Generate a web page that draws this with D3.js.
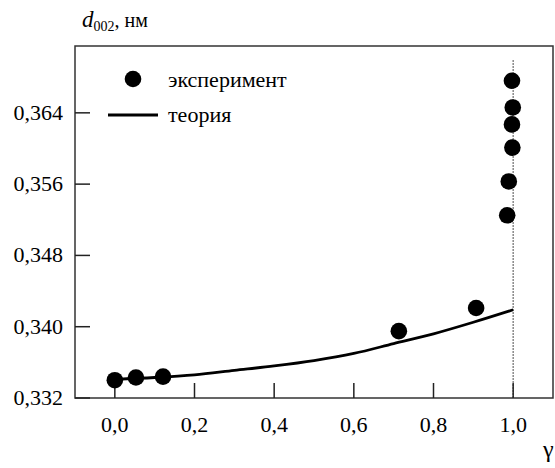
<!DOCTYPE html>
<html><head><meta charset="utf-8">
<script src="https://cdn.jsdelivr.net/npm/d3@7"></script>
<style>
@font-face { font-family: "SerifLocal"; src: local("Liberation Serif"), local("LiberationSerif"), local("Times New Roman"); font-style: normal; }
@font-face { font-family: "SerifLocal"; src: local("Liberation Serif Italic"), local("LiberationSerif-Italic"); font-style: italic; }
svg text, svg tspan { font-family: "Liberation Serif", "SerifLocal", "Times New Roman", serif !important; }
</style>
</head><body style="margin:0">
<svg id="c" width="555" height="468"></svg>
<script>
// Data
const expGamma = [0.0, 0.053, 0.121, 0.713, 0.907, 0.985, 0.989, 0.998, 0.997, 0.999, 0.997];
const expD =     [0.3340, 0.3343, 0.3344, 0.3395, 0.3421, 0.3525, 0.3563, 0.3601, 0.3627, 0.3646, 0.3676];
const theoryGamma = [0.0, 0.1, 0.2, 0.3, 0.4, 0.5, 0.6, 0.7, 0.8, 0.9, 1.0];
const theoryD =     [0.3341, 0.3343, 0.3346, 0.3351, 0.3356, 0.3362, 0.3370, 0.3381, 0.3392, 0.3405, 0.3419];
const xTicks = [0.0, 0.2, 0.4, 0.6, 0.8, 1.0];
const yTicks = [0.332, 0.340, 0.348, 0.356, 0.364];
const legendLabels = ["эксперимент", "теория"];

const svg = d3.select("#c");
const L = 75, T = 46, R = 553, B = 398;
const x = d3.scaleLinear().domain([-0.1, 1.1]).range([L, R]);
const y = d3.scaleLinear().domain([0.332, 0.3715]).range([B, T]);
const fmtX = d => d3.format(".1f")(d).replace(".", ",");
const fmtY = d => d3.format(".3f")(d).replace(".", ",");

// dashed vertical line at gamma = 1
svg.append("line").attr("x1", x(1)).attr("x2", x(1)).attr("y1", 60).attr("y2", B)
  .attr("stroke", "#777").attr("stroke-width", 1.3).attr("stroke-dasharray", "2,1");

// frame
svg.append("rect").attr("x", L).attr("y", T).attr("width", R - L).attr("height", B - T)
  .attr("fill", "none").attr("stroke", "#333").attr("stroke-width", 1.5);

// inward ticks (scale-driven)
svg.append("g").selectAll("line").data(xTicks).join("line")
  .attr("x1", d => x(d)).attr("x2", d => x(d)).attr("y1", B).attr("y2", B - 15)
  .attr("stroke", "#222").attr("stroke-width", 1.5);
svg.append("g").selectAll("line").data(yTicks).join("line")
  .attr("x1", L).attr("x2", L + 15).attr("y1", d => y(d)).attr("y2", d => y(d))
  .attr("stroke", "#222").attr("stroke-width", 1.5);

// tick labels
svg.append("g").selectAll("text").data(xTicks).join("text")
  .attr("x", d => x(d)).attr("y", 432).attr("text-anchor", "middle")
  .attr("font-size", 22).text(fmtX);
svg.append("g").selectAll("text").data(yTicks).join("text")
  .attr("x", 63).attr("y", d => y(d) + 7).attr("text-anchor", "end")
  .attr("font-size", 22).text(fmtY);

// theory curve
const line = d3.line().x((d, i) => x(theoryGamma[i])).y(d => y(d)).curve(d3.curveMonotoneX);
svg.append("path").datum(theoryD).attr("d", line)
  .attr("fill", "none").attr("stroke", "#000").attr("stroke-width", 2.8);

// experimental points
svg.append("g").selectAll("circle").data(expD).join("circle")
  .attr("cx", (d, i) => x(expGamma[i])).attr("cy", d => y(d)).attr("r", 8.3).attr("fill", "#000");

// legend
svg.append("circle").attr("cx", 133).attr("cy", 79).attr("r", 8.3).attr("fill", "#000");
svg.append("line").attr("x1", 108).attr("x2", 158).attr("y1", 115).attr("y2", 115)
  .attr("stroke", "#000").attr("stroke-width", 2.8);
svg.append("text").attr("x", 168).attr("y", 87).attr("font-size", 22).text(legendLabels[0]);
svg.append("text").attr("x", 168).attr("y", 122).attr("font-size", 22).text(legendLabels[1]);

// y title
const t = svg.append("text").attr("x", 82).attr("y", 27);
t.append("tspan").attr("font-size", 23).attr("font-style", "italic").text("d");
t.append("tspan").attr("font-size", 14).attr("dy", 4).text("002");
t.append("tspan").attr("font-size", 20).attr("dy", -4).text(", нм");

// x title
svg.append("text").attr("x", 543).attr("y", 457).attr("font-size", 24).text("γ");
</script>
</body></html>
